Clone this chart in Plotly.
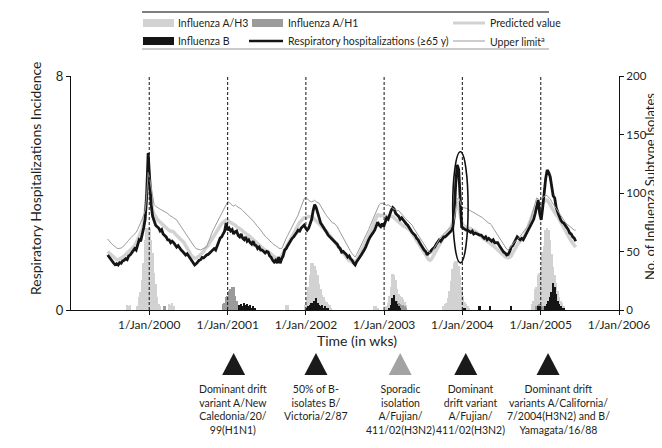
import pandas as pd
import plotly.graph_objects as go

# ---------------- data ----------------
START = "1999-06-21"   # first weekly observation

hosp = [1.88, 1.80, 1.72, 1.65, 1.60, 1.55, 1.58, 1.54, 1.62, 1.60, 1.68,
        1.70, 1.75, 1.72, 1.85, 1.88, 1.95, 2.00, 2.10, 2.05, 2.20,
        2.40, 2.35, 2.55, 2.80, 3.10, 3.90, 5.37, 4.50, 3.60, 3.20,
        3.00, 2.90, 2.85, 2.80, 2.70, 2.75, 2.60, 2.55, 2.50, 2.40,
        2.40, 2.30, 2.35, 2.30, 2.20, 2.15, 2.20, 2.10, 2.05, 2.00,
        1.95, 1.88, 1.92, 1.85, 1.75, 1.70, 1.60, 1.54, 1.58, 1.65,
        1.70, 1.72, 1.80, 1.78, 1.85, 1.88, 1.90, 1.95, 2.00, 2.05,
        2.10, 2.05, 2.20, 2.30, 2.46, 2.50, 2.60, 2.70, 2.97, 2.73,
        2.80, 2.70, 2.75, 2.60, 2.67, 2.70, 2.55, 2.50, 2.60, 2.45,
        2.40, 2.50, 2.35, 2.40, 2.30, 2.25, 2.35, 2.22, 2.20, 2.10,
        2.15, 2.05, 2.05, 2.00, 1.95, 2.00, 1.98, 1.85, 1.80, 1.70,
        1.64, 1.70, 1.60, 1.81, 1.60, 1.75, 1.85, 2.05, 2.10, 2.20,
        2.30, 2.40, 2.45, 2.50, 2.60, 2.65, 2.73, 2.70, 2.80, 2.85,
        2.90, 2.80, 2.73, 2.80, 2.97, 3.10, 3.40, 3.60, 3.50, 3.30,
        3.10, 2.97, 2.90, 2.80, 2.75, 2.65, 2.56, 2.50, 2.45, 2.40,
        2.35, 2.30, 2.25, 2.15, 2.10, 1.98, 2.00, 1.95, 1.90, 1.81,
        1.85, 1.75, 1.70, 1.60, 1.54, 1.65, 1.75, 1.80, 1.88, 1.95,
        2.05, 2.15, 2.30, 2.40, 2.50, 2.60, 2.65, 2.73, 2.85, 3.00,
        2.90, 2.85, 2.95, 2.85, 3.00, 3.15, 3.10, 3.30, 3.40, 3.50,
        3.45, 3.30, 3.25, 3.20, 3.10, 3.15, 3.08, 3.00, 2.95, 2.90,
        2.80, 2.73, 2.65, 2.60, 2.55, 2.45, 2.40, 2.30, 2.20, 2.15,
        2.05, 2.00, 1.88, 1.95, 1.98, 2.05, 2.10, 2.15, 2.25, 2.33,
        2.40, 2.35, 2.45, 2.50, 2.50, 2.55, 2.60, 2.63, 2.70, 2.80,
        3.20, 4.30, 4.96, 4.80, 3.50, 2.84, 2.80, 2.75, 2.73, 2.73,
        2.70, 2.65, 2.70, 2.60, 2.63, 2.60, 2.58, 2.56, 2.56, 2.50,
        2.45, 2.50, 2.40, 2.45, 2.40, 2.35, 2.40, 2.30, 2.30, 2.30,
        2.20, 2.10, 2.05, 1.98, 1.95, 1.88, 1.90, 2.00, 2.15, 2.20,
        2.30, 2.40, 2.50, 2.45, 2.40, 2.45, 2.40, 2.50, 2.60, 2.70,
        2.84, 2.90, 3.00, 3.10, 3.30, 3.60, 3.76, 3.30, 3.08, 3.50,
        4.10, 4.50, 4.79, 4.70, 4.55, 4.20, 3.90, 3.83, 3.50, 3.35,
        3.20, 3.08, 3.00, 2.97, 2.90, 2.84, 2.75, 2.63, 2.60, 2.50, 2.46, 2.35]

predicted = [2.00, 1.95, 1.90, 1.85, 1.80, 1.75, 1.72, 1.72, 1.74, 1.76, 1.80,
             1.85, 1.90, 1.95, 2.00, 2.05, 2.10, 2.15, 2.20, 2.30, 2.40,
             2.50, 2.60, 2.75, 2.95, 3.30, 3.90, 4.80, 4.40, 3.70, 3.40,
             3.25, 3.20, 3.10, 3.05, 3.00, 2.95, 2.90, 2.85, 2.80, 2.75,
             2.72, 2.70, 2.68, 2.67, 2.60, 2.55, 2.50, 2.45, 2.40, 2.35,
             2.30, 2.20, 2.10, 2.00, 1.92, 1.85, 1.80, 1.77, 1.78, 1.80,
             1.85, 1.90, 1.95, 2.00, 2.10, 2.15, 2.20, 2.30, 2.38, 2.45,
             2.55, 2.62, 2.70, 2.80, 2.90, 2.95, 3.00, 3.05, 3.08, 3.05,
             3.02, 3.00, 2.98, 2.95, 2.90, 2.85, 2.82, 2.80, 2.75, 2.70,
             2.65, 2.60, 2.58, 2.55, 2.50, 2.45, 2.40, 2.35, 2.30, 2.25,
             2.20, 2.15, 2.10, 2.08, 2.05, 2.00, 1.98, 1.95, 1.90, 1.85,
             1.80, 1.78, 1.76, 1.76, 1.78, 1.85, 1.95, 2.05, 2.15, 2.25,
             2.35, 2.45, 2.50, 2.60, 2.70, 2.80, 2.90, 3.00, 3.05, 3.10,
             3.15, 3.15, 3.18, 3.20, 3.20, 3.20, 3.15, 3.10, 3.05, 3.00,
             2.95, 2.90, 2.85, 2.80, 2.75, 2.70, 2.62, 2.55, 2.48, 2.42,
             2.36, 2.30, 2.22, 2.15, 2.08, 2.00, 1.92, 1.85, 1.80, 1.75,
             1.70, 1.66, 1.64, 1.64, 1.66, 1.70, 1.80, 1.90, 2.00, 2.10,
             2.20, 2.30, 2.40, 2.50, 2.60, 2.75, 2.90, 3.05, 3.15, 3.25,
             3.25, 3.22, 3.25, 3.25, 3.22, 3.20, 3.20, 3.18, 3.20, 3.20,
             3.15, 3.10, 3.05, 3.00, 2.95, 2.90, 2.88, 2.85, 2.82, 2.80,
             2.75, 2.70, 2.62, 2.55, 2.45, 2.35, 2.28, 2.20, 2.15, 2.05,
             1.98, 1.90, 1.80, 1.72, 1.70, 1.75, 1.85, 1.95, 2.05, 2.15,
             2.25, 2.32, 2.40, 2.48, 2.55, 2.62, 2.70, 2.76, 2.84, 3.00,
             3.20, 3.50, 3.70, 3.50, 3.20, 3.00, 2.90, 2.85, 2.82, 2.80,
             2.80, 2.78, 2.75, 2.72, 2.70, 2.65, 2.60, 2.55, 2.50, 2.45,
             2.42, 2.40, 2.36, 2.32, 2.30, 2.25, 2.20, 2.15, 2.10, 2.05,
             2.00, 1.95, 1.90, 1.85, 1.82, 1.80, 1.78, 1.80, 1.85, 1.95,
             2.05, 2.15, 2.22, 2.30, 2.35, 2.40, 2.45, 2.55, 2.65, 2.80,
             2.95, 3.10, 3.25, 3.40, 3.50, 3.50, 3.50, 3.55, 3.60, 3.68,
             3.72, 3.76, 3.76, 3.70, 3.60, 3.50, 3.40, 3.30, 3.25, 3.20,
             3.10, 3.00, 2.90, 2.80, 2.70, 2.62, 2.55, 2.45, 2.35, 2.28, 2.20, 2.15]

upper = [2.43, 2.35, 2.30, 2.25, 2.20, 2.15, 2.12, 2.10, 2.10, 2.12, 2.15,
         2.20, 2.25, 2.30, 2.38, 2.45, 2.50, 2.55, 2.60, 2.65, 2.75,
         2.85, 2.95, 3.10, 3.25, 3.40, 3.90, 4.70, 4.50, 4.20, 3.90,
         3.60, 3.55, 3.50, 3.48, 3.45, 3.42, 3.40, 3.38, 3.35, 3.30,
         3.25, 3.20, 3.18, 3.15, 3.12, 3.08, 3.00, 2.92, 2.85, 2.75,
         2.68, 2.60, 2.55, 2.45, 2.38, 2.30, 2.22, 2.15, 2.10, 2.08,
         2.05, 2.05, 2.08, 2.10, 2.12, 2.15, 2.30, 2.45, 2.60, 2.70,
         2.80, 2.90, 3.00, 3.10, 3.20, 3.30, 3.40, 3.50, 3.60, 3.70,
         3.68, 3.62, 3.58, 3.55, 3.60, 3.55, 3.52, 3.50, 3.45, 3.40,
         3.35, 3.30, 3.28, 3.20, 3.15, 3.10, 3.05, 2.98, 2.90, 2.85,
         2.80, 2.72, 2.65, 2.58, 2.52, 2.48, 2.42, 2.38, 2.32, 2.28,
         2.22, 2.20, 2.15, 2.12, 2.10, 2.10, 2.20, 2.35, 2.45, 2.55,
         2.65, 2.72, 2.80, 2.90, 3.00, 3.10, 3.25, 3.40, 3.55, 3.70,
         3.80, 3.86, 3.80, 3.75, 3.72, 3.70, 3.72, 3.75, 3.70, 3.68,
         3.65, 3.55, 3.45, 3.38, 3.30, 3.22, 3.15, 3.08, 3.02, 2.97,
         2.97, 2.92, 2.85, 2.75, 2.65, 2.55, 2.48, 2.40, 2.30, 2.20,
         2.10, 2.00, 1.92, 1.85, 1.81, 1.90, 2.00, 2.10, 2.20, 2.30,
         2.40, 2.50, 2.62, 2.75, 2.88, 3.00, 3.10, 3.20, 3.35, 3.50,
         3.60, 3.65, 3.65, 3.62, 3.60, 3.58, 3.60, 3.55, 3.50, 3.48,
         3.45, 3.42, 3.40, 3.40, 3.35, 3.30, 3.22, 3.15, 3.10, 3.05,
         3.00, 2.97, 2.90, 2.80, 2.72, 2.65, 2.55, 2.48, 2.40, 2.30,
         2.22, 2.15, 2.08, 2.00, 1.95, 1.95, 2.05, 2.15, 2.25, 2.35,
         2.45, 2.50, 2.55, 2.60, 2.65, 2.70, 2.75, 2.80, 2.85, 2.90,
         3.10, 3.40, 3.80, 3.85, 3.70, 3.55, 3.50, 3.50, 3.48, 3.45,
         3.42, 3.40, 3.38, 3.35, 3.30, 3.28, 3.25, 3.22, 3.20, 3.15,
         3.10, 3.05, 3.00, 2.97, 2.95, 2.90, 2.80, 2.72, 2.65, 2.58,
         2.50, 2.42, 2.35, 2.25, 2.15, 2.08, 2.05, 2.12, 2.20, 2.28,
         2.32, 2.36, 2.40, 2.45, 2.52, 2.60, 2.68, 2.75, 2.80, 2.84,
         2.95, 3.10, 3.30, 3.50, 3.70, 3.83, 3.80, 3.75, 3.80, 3.85,
         3.90, 3.92, 3.90, 3.85, 3.80, 3.70, 3.62, 3.55, 3.48, 3.40,
         3.30, 3.20, 3.12, 3.05, 3.00, 2.95, 2.90, 2.85, 2.80, 2.75, 2.73, 2.73]

# isolates per week (week index counted from START)
h3_week = [13, 14, 15,
           20, 21, 22, 23, 24, 25, 26, 27, 28, 29, 30, 31, 32, 33, 34, 35,
           41, 42, 43, 44, 77, 119, 120,
           132, 133, 134, 135, 136, 137, 138, 139, 140, 141, 142, 143, 144, 145, 146, 147, 148, 149,
           178, 179, 180,
           186, 187, 188, 189, 190, 191, 192, 193, 194, 195, 196, 197, 198, 199,
           224, 225, 226, 227, 228, 229, 230, 231, 232, 233, 234, 235, 236, 237, 238, 239, 240, 241,
           283, 284, 285, 286, 287, 288, 289, 290, 291, 292, 293, 294, 295, 296, 297, 298, 299, 300,
           301, 302, 303, 304]
h3_count = [4, 3, 4,
            3, 11, 15, 26, 40, 60, 70, 70, 70, 60, 49, 32, 22, 11, 5, 3,
            5, 4, 6, 3, 3, 4, 4,
            4, 11, 20, 30, 40, 40, 38, 34, 30, 22, 18, 13, 11, 8, 7, 5, 4, 2,
            3, 3, 2,
            3, 6, 12, 20, 31, 30, 26, 18, 14, 12, 11, 9, 7, 4,
            3, 5, 6, 10, 16, 25, 35, 40, 42, 42, 38, 30, 20, 12, 7, 5, 3, 2,
            5, 8, 18, 20, 30, 32, 37, 50, 55, 68, 70, 68, 60, 48, 37, 30, 23, 16,
            11, 8, 6, 3]

h1_week = [38, 77, 78, 79, 80, 81, 82, 83, 84, 85, 86, 87,
           189, 190, 191, 192, 193, 194, 195, 196, 197, 198, 199,
           286, 287, 288, 289, 290]
h1_count = [3, 5, 6, 11, 12, 16, 18, 20, 20, 12, 8, 3,
            3, 5, 6, 7, 8, 6, 5, 4, 4, 3, 2,
            3, 4, 5, 4, 3]

b_week = [88, 89, 90, 91, 92, 93, 94, 95, 96, 97, 98,
          133, 134, 135, 136, 137, 138, 139, 140, 141, 142, 143, 144, 145, 146, 147,
          188, 189, 190, 191, 192, 193, 194, 195,
          238, 248, 255, 269,
          287, 288, 292, 293, 294, 295, 296, 297, 298, 299, 300, 301, 302, 303, 304]
b_count = [4, 5, 3, 6, 4, 5, 3, 4, 2, 3, 2,
           2, 3, 4, 6, 5, 8, 10, 6, 4, 3, 4, 2, 3, 2, 2,
           2, 4, 10, 13, 8, 5, 3, 2,
           2, 3, 3, 3,
           3, 3, 3, 5, 8, 11, 15, 23, 20, 14, 8, 5, 3, 2, 2]

tick_dates = ["2000-01-01", "2001-01-01", "2002-01-01", "2003-01-01",
              "2004-01-01", "2005-01-01", "2006-01-01"]
tick_labels = ["1/Jan/2000", "1/Jan/2001", "1/Jan/2002", "1/Jan/2003",
               "1/Jan/2004", "1/Jan/2005", "1/Jan/2006"]
season_marks = ["2000-01-01", "2001-01-01", "2002-01-01", "2003-01-01",
                "2004-01-01", "2005-01-01"]

event_dates = ["2001-01-29", "2002-02-17", "2003-03-17", "2004-01-17", "2005-02-04"]
event_colors = ["#1a1a1a", "#1a1a1a", "#a3a3a3", "#1a1a1a", "#1a1a1a"]
event_texts = ["Dominant drift<br>variant A/New<br>Caledonia/20/<br>99(H1N1)",
               "50% of B-<br>isolates B/<br>Victoria/2/87",
               "Sporadic<br>isolation<br>A/Fujian/<br>411/02(H3N2)",
               "Dominant<br>drift variant<br>A/Fujian/<br>411/02(H3N2)",
               "Dominant drift<br>variants A/California/<br>7/2004(H3N2) and B/<br>Yamagata/16/88"]
event_text_shift = [0, 0, 0, 5, 10]

highlight_x = ["2003-11-17", "2004-01-28"]
highlight_y = [1.61, 5.41]

# ---------------- helpers ----------------
def weeks(idx):
    return pd.Timestamp(START) + pd.to_timedelta([7 * i for i in idx], unit="D")

OFF = 8                      # page margin around the plot div
W, H = 662 - OFF, 448 - OFF
ML, MR, MT, MB = 71 - OFF, 43, 76 - OFF, 138
PW, PH = W - ML - MR, H - MT - MB

def px(x):  # screen pixel -> paper x
    return (x - OFF - ML) / PW

def py(y):  # screen pixel -> paper y
    return (MT + PH - (y - OFF)) / PH

FONT = "Lato"
TXT = "#231f20"
LIGHT = "#d2d2d2"
MID = "#9b9b9b"
DARK = "#151515"
BAR_MS = 8 * 24 * 3600 * 1000

fig = go.Figure()

# bars on the primary (right-hand) axis
fig.add_trace(go.Bar(x=weeks(h3_week), y=h3_count, width=BAR_MS, marker_color=LIGHT,
                     marker_line_width=0, yaxis="y", name="Influenza A/H3"))
fig.add_trace(go.Bar(x=weeks(h1_week), y=h1_count, width=BAR_MS, marker_color=MID,
                     marker_line_width=0, yaxis="y", name="Influenza A/H1"))
fig.add_trace(go.Bar(x=weeks(b_week), y=b_count, width=BAR_MS, marker_color=DARK,
                     marker_line_width=0, yaxis="y", name="Influenza B"))

# lines on the overlaying (left-hand) axis
fig.add_trace(go.Scatter(x=weeks(range(len(predicted))), y=predicted, mode="lines",
                         line=dict(color=LIGHT, width=3.5), yaxis="y2", name="Predicted value"))
fig.add_trace(go.Scatter(x=weeks(range(len(hosp))), y=hosp, mode="lines",
                         line=dict(color=DARK, width=2.8), yaxis="y2",
                         name="Respiratory hospitalizations (≥65 y)"))
fig.add_trace(go.Scatter(x=weeks(range(len(upper))), y=upper, mode="lines",
                         line=dict(color=MID, width=1), yaxis="y2", name="Upper limit"))

shapes = []
for d in season_marks:
    shapes.append(dict(type="line", xref="x", yref="paper", x0=d, x1=d, y0=0, y1=1,
                       line=dict(color="#111", width=1, dash="3px,2px"), layer="above"))

shapes.append(dict(type="circle", xref="x", yref="y2",
                   x0=highlight_x[0], x1=highlight_x[1], y0=highlight_y[0], y1=highlight_y[1],
                   line=dict(color="#111", width=1.6), layer="above"))

for d, c in zip(event_dates, event_colors):
    shapes.append(dict(type="path", xref="x", yref="paper", xsizemode="pixel", ysizemode="pixel",
                       xanchor=d, yanchor=0, path="M-11.5,-65 L11.5,-65 L0,-43 Z",
                       fillcolor=c, line=dict(width=0)))

# legend (drawn by hand to match the boxed two-row layout)
shapes.append(dict(type="line", xref="paper", yref="paper", x0=px(142), x1=px(549),
                   y0=py(12), y1=py(12), line=dict(color="#555", width=1.6)))
shapes.append(dict(type="line", xref="paper", yref="paper", x0=px(142), x1=px(549),
                   y0=py(49), y1=py(49), line=dict(color="#999", width=1)))
shapes.append(dict(type="rect", xref="paper", yref="paper", x0=px(143), x1=px(174),
                   y0=py(27), y1=py(19), fillcolor=LIGHT, line=dict(width=0)))
shapes.append(dict(type="rect", xref="paper", yref="paper", x0=px(143), x1=px(174),
                   y0=py(45), y1=py(37), fillcolor=DARK, line=dict(width=0)))
shapes.append(dict(type="rect", xref="paper", yref="paper", x0=px(252), x1=px(283),
                   y0=py(27), y1=py(19), fillcolor=MID, line=dict(width=0)))
shapes.append(dict(type="line", xref="paper", yref="paper", x0=px(249), x1=px(283),
                   y0=py(41), y1=py(41), line=dict(color=DARK, width=2.6)))
shapes.append(dict(type="line", xref="paper", yref="paper", x0=px(453), x1=px(485),
                   y0=py(23), y1=py(23), line=dict(color=LIGHT, width=3)))
shapes.append(dict(type="line", xref="paper", yref="paper", x0=px(453), x1=px(485),
                   y0=py(41), y1=py(41), line=dict(color=MID, width=1)))

annotations = []
legend_items = [("Influenza A/H3", 176, 23), ("Influenza B", 176, 41),
                ("Influenza A/H1", 286, 23), ("Respiratory hospitalizations (≥65 y)", 286, 41),
                ("Predicted value", 488, 23), ("Upper limit<sup>a</sup>", 488, 41)]
for t, x, y in legend_items:
    annotations.append(dict(text=t, xref="paper", yref="paper", x=px(x), y=py(y),
                            xanchor="left", yanchor="middle", showarrow=False,
                            font=dict(family=FONT, size=10.5, color=TXT)))

for d, t, s in zip(event_dates, event_texts, event_text_shift):
    annotations.append(dict(text=t, xref="x", yref="paper", x=d, y=py(381), xshift=s,
                            xanchor="center", yanchor="top", showarrow=False, align="center",
                            font=dict(family=FONT, size=10.5, color=TXT)))

annotations.append(dict(text="Time (in wks)", xref="paper", yref="paper", x=px(357), y=py(340),
                        xanchor="center", yanchor="middle", showarrow=False,
                        font=dict(family=FONT, size=14, color=TXT)))
annotations.append(dict(text="Respiratory Hospitalizations Incidence", xref="paper", yref="paper",
                        x=px(35), y=py(178), textangle=-90, xanchor="center", yanchor="middle",
                        showarrow=False, font=dict(family=FONT, size=14, color=TXT)))
annotations.append(dict(text="No. of Influenza Subtype Isolates", xref="paper", yref="paper",
                        x=px(650), y=py(187), textangle=-90, xanchor="center", yanchor="middle",
                        showarrow=False, font=dict(family=FONT, size=13, color=TXT)))

fig.update_layout(
    width=W, height=H, margin=dict(l=ML, r=MR, t=MT, b=MB),
    paper_bgcolor="white", plot_bgcolor="white",
    showlegend=False, barmode="overlay", bargap=0,
    font=dict(family=FONT, size=12, color=TXT),
    xaxis=dict(type="date", range=["1999-01-01", "2006-01-01"],
               tickvals=tick_dates, ticktext=tick_labels, tickangle=0,
               ticks="outside", ticklen=4, tickcolor="#111",
               showline=True, linecolor="#111", linewidth=1,
               showgrid=False, zeroline=False,
               tickfont=dict(family=FONT, size=12, color=TXT)),
    yaxis=dict(range=[0, 200], side="right", tickvals=[0, 50, 100, 150, 200],
               ticks="outside", ticklen=4, tickcolor="#111",
               showline=True, linecolor="#111", linewidth=1,
               showgrid=False, zeroline=False,
               tickfont=dict(family=FONT, size=11.5, color=TXT)),
    yaxis2=dict(range=[0, 8], overlaying="y", side="left", tickvals=[0, 8],
                ticks="outside", ticklen=4, tickcolor="#111",
                showline=True, linecolor="#111", linewidth=1,
                showgrid=False, zeroline=False,
                tickfont=dict(family=FONT, size=13, color=TXT)),
    shapes=shapes, annotations=annotations,
)

fig.write_html("out.html")
